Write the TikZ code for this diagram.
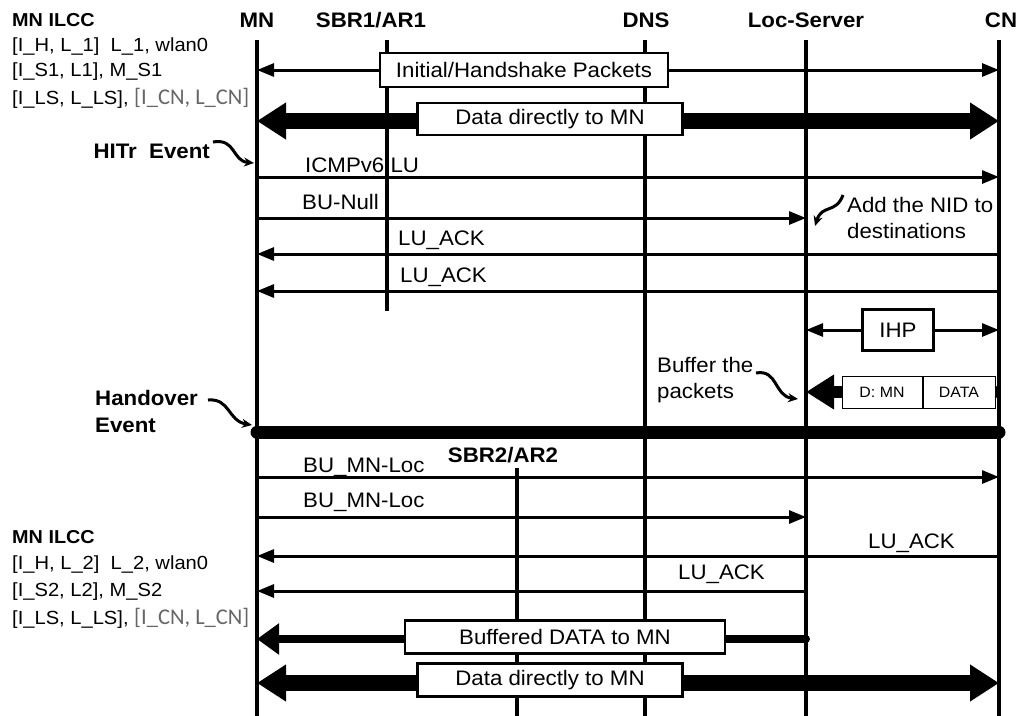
\documentclass[tikz,border=0pt]{standalone}
\usepackage{fontspec}
\setmainfont[FakeStretch=1.06]{Liberation Sans}
\newfontfamily\calfont{Carlito}
\usetikzlibrary{arrows.meta}
\definecolor{lightcn}{rgb}{0.4,0.4,0.4}
\newcommand{\lblfont}{\fontsize{21}{25}\selectfont}
\newcommand{\lftfont}{\fontsize{19}{23}\selectfont}
\newcommand{\smfont}{\fontsize{15}{18}\selectfont}
\begin{document}
\begin{tikzpicture}[x=1pt,y=-1pt,
  life/.style={line width=3.5pt},
  msg/.style={line width=3pt,-{Triangle[length=17pt,width=13pt]}},
  msgb/.style={line width=3pt,{Triangle[length=17pt,width=13pt]}-{Triangle[length=17pt,width=13pt]}},
  fat/.style={line width=16pt,{Triangle[length=29pt,width=35pt]}-{Triangle[length=29pt,width=35pt]}},
  bufarrow/.style={line width=8pt,line cap=round,-{Triangle[length=22pt,width=30pt]}},
  lbox/.style={draw,line width=2.5pt,fill=white,inner sep=0pt,font=\lblfont},
  sbox/.style={draw,line width=1pt,fill=white,inner sep=0pt,font=\smfont,minimum height=32pt},
  txt/.style={inner sep=0pt,font=\lblfont},
  lft/.style={inner sep=0pt,font=\lftfont,anchor=west},
  hdr/.style={inner sep=0pt,font=\lblfont\bfseries},
  squig/.style={line width=3pt,-{Stealth[length=10pt,width=9pt]}}
]
\useasboundingbox (0,0) rectangle (1019,715);
% lifelines
\coordinate (MNt) at (257,40);  \coordinate (MNb) at (257,716);
\coordinate (S1t) at (387,40);  \coordinate (S1b) at (387,311);
\coordinate (S2t) at (517,468); \coordinate (S2b) at (517,716);
\coordinate (DNt) at (645,40);  \coordinate (DNb) at (645,716);
\coordinate (LSt) at (806,40);  \coordinate (LSb) at (806,716);
\coordinate (CNt) at (999,40);  \coordinate (CNb) at (999,716);
\draw[life] (MNt) -- (MNb);
\draw[life] (S1t) -- (S1b);
\draw[life] (S2t) -- (S2b);
\draw[life] (DNt) -- (DNb);
\draw[life] (LSt) -- (LSb);
\draw[life] (CNt) -- (CNb);
% headers
\node[hdr,font=\fontsize{18.7}{22}\selectfont\bfseries,anchor=west] (ilcc1) at (12,20) {MN ILCC};
\node[hdr] (hMN) at (257,20) {MN};
\node[hdr] (hS1) at (371,20) {SBR1/AR1};
\node[hdr] (hDN) at (646,20) {DNS};
\node[hdr] (hLS) at (806,20) {Loc-Server};
\node[hdr] (hCN) at (1001,20) {CN};
\node[hdr] (hS2) at (503,455) {SBR2/AR2};
% left block 1
\node[lft] (l11) at (12,47) {[I\_H, L\_1]~~L\_1, wlan0};
\node[lft] (l12) at (12,72) {[I\_S1, L1], M\_S1};
\node[lft] (l13) at (12,98) {[I\_LS, L\_LS], {\color{lightcn}\calfont\fontsize{22.5}{24}\selectfont [I\_CN, L\_CN]}};
% left block 2
\node[hdr,font=\fontsize{18.7}{22}\selectfont\bfseries,anchor=west] (ilcc2) at (12,537) {MN ILCC};
\node[lft] (l21) at (12,565) {[I\_H, L\_2]~~L\_2, wlan0};
\node[lft] (l22) at (12,592) {[I\_S2, L2], M\_S2};
\node[lft] (l23) at (12,618) {[I\_LS, L\_LS], {\color{lightcn}\calfont\fontsize{22.5}{24}\selectfont [I\_CN, L\_CN]}};
% initial / handshake
\draw[msgb] (MNt |- 0,70) -- (CNt |- 0,70);
\node[lbox,minimum width=288pt,minimum height=34pt] (bInit) at (524,70) {Initial/Handshake Packets};
% data directly 1
\draw[fat] (MNt |- 0,121) -- (CNt |- 0,121);
\node[lbox,minimum width=265pt,minimum height=32pt] (bData1) at (550,119) {Data directly to MN};
% HITr event
\node[hdr,anchor=east] (hitr) at (210,151) {HITr~~Event};
\coordinate (hitrT) at (254,163);
\draw[squig] (hitr.east) ++(3,-9) .. controls (236,138) and (232,161) .. (hitrT);
% ICMPv6 LU
\draw[msg] (MNt |- 0,177) -- (CNt |- 0,177);
\node[txt,anchor=west] (tICMP) at (305,165) {ICMPv6 LU};
% BU-Null
\draw[msg] (MNt |- 0,218) -- (LSt |- 0,218);
\node[txt,anchor=west] (tBUN) at (302,202) {BU-Null};
% Add the NID
\node[txt,anchor=west] (tNID1) at (847,205) {Add the NID to};
\node[txt,anchor=west] (tNID2) at (847,231) {destinations};
\coordinate (nidT) at (815,226);
\draw[squig] (843,195) .. controls (836,214) and (822,204) .. (nidT);
% LU_ACK 1,2
\draw[msg] (CNt |- 0,254) -- (MNt |- 0,254);
\node[txt,anchor=west] (tLA1) at (398,240) {LU\_ACK};
\draw[msg] (CNt |- 0,291) -- (MNt |- 0,291);
\node[txt,anchor=west] (tLA2) at (400,277) {LU\_ACK};
% IHP
\draw[msgb] (LSt |- 0,330) -- (CNt |- 0,330);
\node[lbox,minimum width=71pt,minimum height=41pt] (bIHP) at (898,330) {IHP};
% buffer
\coordinate (bufS) at (995,392);
\draw[line width=12pt,line cap=round,-{Triangle[length=28pt,width=33pt]}] (bufS) -- (LSt |- bufS);
\node[sbox,minimum width=80pt] (bDMN) at (882,392) {D: MN};
\node[sbox,minimum width=72pt,anchor=west] (bDATA) at (bDMN.east) {DATA};
\node[txt,anchor=west] (tBuf1) at (657,365) {Buffer the};
\node[txt,anchor=west] (tBuf2) at (657,393) {packets};
\coordinate (bufT) at (798,399);
\draw[squig] (756,373) .. controls (778,369) and (774,396) .. (bufT);
% handover
\node[hdr,anchor=west] (hand1) at (95,398) {Handover};
\node[hdr,anchor=west] (hand2) at (95,425) {Event};
\coordinate (handT) at (252,425);
\draw[squig] (208,400) .. controls (230,398) and (228,421) .. (handT);
\draw[line width=13pt,line cap=round] (MNt |- 0,432) -- (CNt |- 0,432);
% BU_MN-Loc
\draw[msg] (MNt |- 0,477) -- (CNt |- 0,477);
\node[txt,anchor=west] (tBU1) at (303,467) {BU\_MN-Loc};
\draw[msg] (MNt |- 0,517) -- (LSt |- 0,517);
\node[txt,anchor=west] (tBU2) at (303,502) {BU\_MN-Loc};
% LU_ACK 3,4
\draw[msg] (CNt |- 0,556) -- (MNt |- 0,556);
\node[txt,anchor=west] (tLA3) at (868,543) {LU\_ACK};
\draw[msg] (LSt |- 0,591) -- (MNt |- 0,591);
\node[txt,anchor=west] (tLA4) at (678,574) {LU\_ACK};
% buffered data
\draw[bufarrow] (LSt |- 0,639) -- (MNt |- 0,639);
\node[lbox,minimum width=320pt,minimum height=33pt] (bBuf) at (565,637) {Buffered DATA to MN};
% data directly 2
\draw[fat] (MNt |- 0,683) -- (CNt |- 0,683);
\node[lbox,minimum width=265pt,minimum height=33pt] (bData2) at (550,680) {Data directly to MN};
\end{tikzpicture}
\end{document}
